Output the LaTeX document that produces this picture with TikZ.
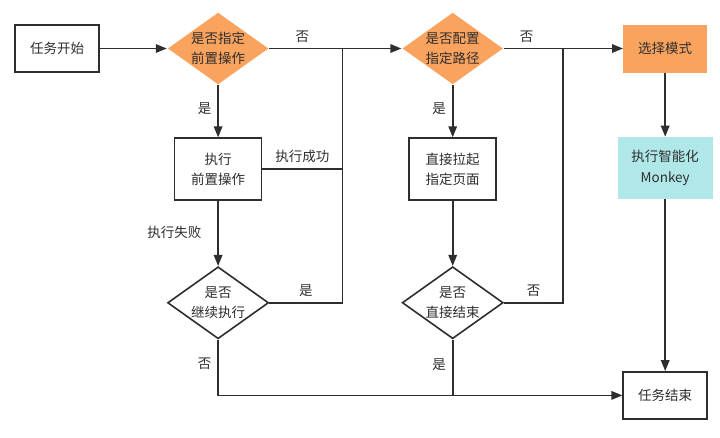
\documentclass[tikz,border=0pt]{standalone}
\usepackage{fontspec}
\setmainfont{Noto Sans CJK SC}
\usepackage{xcolor}
\usepackage{tikz}
\usetikzlibrary{shapes.geometric, arrows.meta, positioning, calc}

\definecolor{flowline}{HTML}{2E2E2E}
\definecolor{flowtext}{HTML}{2E2E2E}
\definecolor{modeorange}{HTML}{FAA35E}
\definecolor{monkeycyan}{HTML}{B0E8E9}

\begin{document}
\begin{tikzpicture}[
  >={Triangle[length=11pt,width=8.5pt]},
  every node/.style={font=\fontsize{13.5}{20.5}\selectfont, text=flowtext},
  task/.style={rectangle, draw=flowline, line width=1.6pt, fill=white, align=center, minimum width=84pt, minimum height=47pt},
  proc/.style={rectangle, draw=flowline, line width=1.6pt, fill=white, align=center, minimum width=87pt, minimum height=62pt},
  ask/.style={diamond, draw=flowline, line width=1.6pt, fill=white, align=center, inner sep=0pt, aspect=1.38, minimum width=101pt, minimum height=72pt},
  askhot/.style={ask, draw=none, fill=modeorange},
  mode/.style={rectangle, fill=modeorange, align=center, minimum width=84pt, minimum height=48pt},
  monkey/.style={rectangle, fill=monkeycyan, align=center, minimum width=95pt, minimum height=62pt},
  flow/.style={line width=1.6pt, draw=flowline},
  tag/.style={inner sep=2pt}
]
\useasboundingbox (0,0) rectangle (720pt,-437pt);

\node[task] (start) at (57pt,-48.5pt) {任务开始};
\node[askhot, right=67pt of start] (hasPre) {是否指定\\前置操作};
\node[askhot, right=132pt of hasPre] (hasPath) {是否配置\\指定路径};
\node[mode, right=119pt of hasPath] (chooseMode) {选择模式};

\node[proc, below=52pt of hasPre] (runPre) {执行\\前置操作};
\node[ask, below=65pt of runPre] (goOn) {是否\\继续执行};
\node[proc, below=52pt of hasPath] (openPage) {直接拉起\\指定页面};
\node[ask, below=65pt of openPage] (stopNow) {是否\\直接结束};

\node[monkey, below=64pt of chooseMode] (runMonkey) {执行智能化\\Monkey};
\node[task, below=172pt of runMonkey] (finish) {任务结束};

\coordinate[right=73pt of hasPre.east] (joinA);
\coordinate[right=59pt of hasPath.east] (joinB);

\draw[->, flow] (start) -- (hasPre);
\draw[->, flow] (hasPre) -- node[tag, above, pos=0.25, yshift=3pt] {否} (hasPath);
\draw[->, flow] (hasPre) -- node[tag, left, pos=0.45, xshift=-4pt] {是} (runPre);
\draw[flow] (runPre.east) -- node[tag, above, yshift=4pt] {执行成功} (runPre.east -| joinA);
\draw[->, flow] (runPre) -- node[tag, left, pos=0.48, xshift=-14pt] {执行失败} (goOn);
\draw[flow] (goOn.east) -- node[tag, above, yshift=3pt] {是} (goOn.east -| joinA) -- (joinA);
\draw[->, flow] (goOn.south) |- node[tag, left, pos=0.22, xshift=-4pt] {否} (finish.west);

\draw[->, flow] (hasPath) -- node[tag, above, pos=0.19, yshift=3pt] {否} (chooseMode);
\draw[->, flow] (hasPath) -- node[tag, left, pos=0.45, xshift=-4pt] {是} (openPage);
\draw[->, flow] (openPage) -- (stopNow);
\draw[flow] (stopNow.east) -- node[tag, above, yshift=3pt] {否} (stopNow.east -| joinB) -- (joinB);
\draw[flow] (stopNow.south) -- node[tag, left, pos=0.45, xshift=-4pt] {是} (stopNow.south |- finish.west);

\draw[->, flow] (chooseMode) -- (runMonkey);
\draw[->, flow] (runMonkey) -- (finish);

\end{tikzpicture}
\end{document}
